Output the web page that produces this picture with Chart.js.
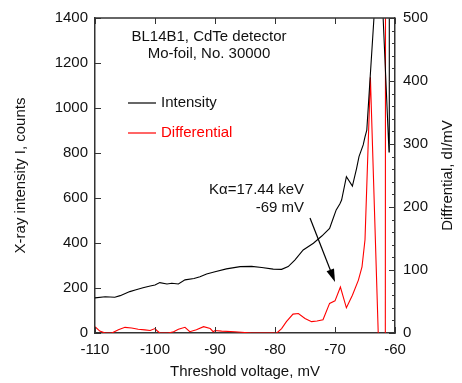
<!DOCTYPE html>
<html>
<head>
<meta charset="utf-8">
<script src="https://cdn.jsdelivr.net/npm/chart.js@4.4.1/dist/chart.umd.min.js"></script>
<style>
html,body{margin:0;padding:0;background:#fff;}
#wrap{width:462px;height:383px;position:relative;}
</style>
</head>
<body>
<div id="wrap"><canvas id="c" width="462" height="383"></canvas></div>
<script>
// ---- data ----
const intensityVoltage = [-110,-108.3,-106.7,-105.8,-104.2,-103.3,-102,-100.8,-100,-99.2,-98,-97.2,-96.1,-95,-93.5,-92.5,-91.4,-90,-88.1,-85.8,-83.9,-82.2,-80.3,-78.9,-77.8,-76.7,-75.3,-73.6,-72.2,-70.9,-70.3,-69.8,-69.2,-68.9,-68.1,-67.1,-66.4,-66,-65.3,-65,-64.7,-62.6,-61,-60.95];
const intensityCounts  = [156,161,159,166,184,191,201,209,213,224,218,221,218,236,242,250,262,272,285,295,296,291,284,283,295,324,369,399,431,465,510,547,573,591,695,653,732,784,836,872,902,1780,805,2500];
const diffVoltage = [-110,-109.2,-108.3,-107.2,-106.1,-105,-103.9,-102.8,-101.7,-100.8,-100,-99.7,-99.2,-98.4,-97.8,-96.9,-96.1,-95,-94.2,-93.1,-91.9,-90.8,-90.3,-90,-88.9,-86.7,-83.9,-80,-79.7,-78.9,-78.1,-77,-76.1,-75,-73.9,-73,-72,-70.9,-70,-69.1,-68.1,-67.1,-66.1,-65.5,-65,-64.1,-62.6,-61.7,-61.5];
const diffValues  = [10,3,0,0,5,9,8,6,5,4,7,4,0,0,0,2,6,9,2,5,10,7,2,4,3,2,0,0,0,7,18,30,31,23,18,19,21,47,51,73,40,60,84,105,148,406,-60,-1500,2000];
const xTicks = [-110,-100,-90,-80,-70,-60];
const yLeftTicks = [0,200,400,600,800,1000,1200,1400];
const yRightTicks = [0,100,200,300,400,500];
const seriesNames = ['Intensity','Differential'];
const titleLines = ['BL14B1, CdTe detector','Mo-foil, No. 30000'];
const arrowLines = ['K\u03B1=17.44 keV','-69 mV'];
const rightTitle = 'Diffrential, dI/mV';

const toPts = (xs, ys) => xs.map((x, i) => ({x: x, y: ys[i]}));
const FONT = '"Liberation Sans", Arial, Helvetica, sans-serif';
const INK = '#111';

const decor = {
  id: 'decor',
  afterDatasetsDraw(chart) {
    const {ctx, chartArea: a, scales} = chart;
    const sx = scales.x, sy = scales.y, sy2 = scales.y2;
    ctx.save();
    ctx.strokeStyle = '#333';
    ctx.lineWidth = 1;
    // inward ticks
    ctx.beginPath();
    xTicks.forEach(v => {
      const p = Math.round(sx.getPixelForValue(v)) + 0.5;
      ctx.moveTo(p, a.bottom); ctx.lineTo(p, a.bottom - 6);
      ctx.moveTo(p, a.top); ctx.lineTo(p, a.top + 6);
    });
    yLeftTicks.forEach(v => {
      const p = Math.round(sy.getPixelForValue(v)) + 0.5;
      ctx.moveTo(a.left, p); ctx.lineTo(a.left + 6, p);
    });
    for (let v = 0; v <= 500; v += 20) {
      const p = Math.round(sy2.getPixelForValue(v)) + 0.5;
      const len = (v % 100 === 0) ? 6 : 3;
      ctx.moveTo(a.right, p); ctx.lineTo(a.right - len, p);
    }
    ctx.stroke();

    // title text
    ctx.fillStyle = INK;
    ctx.font = '15px ' + FONT;
    ctx.textAlign = 'center';
    ctx.textBaseline = 'middle';
    ctx.fillText(titleLines[0], 209, 37);
    ctx.fillText(titleLines[1], 209, 54);

    // legend
    const legend = [{c: '#000', t: seriesNames[0], y: 103}, {c: '#ff0000', t: seriesNames[1], y: 133}];
    legend.forEach(l => {
      ctx.strokeStyle = l.c; ctx.lineWidth = 1.2;
      ctx.beginPath(); ctx.moveTo(128, l.y); ctx.lineTo(156, l.y); ctx.stroke();
      ctx.fillStyle = l.c === '#000' ? INK : '#ff0000';
      ctx.textAlign = 'left';
      ctx.fillText(l.t, 161, l.y);
    });

    // annotation
    ctx.fillStyle = INK;
    ctx.textAlign = 'right';
    ctx.fillText(arrowLines[0], 304, 190);
    ctx.fillText(arrowLines[1], 304, 208);

    // arrow
    const x0 = 310, y0 = 218, x1 = 335, y1 = 282;
    const ang = Math.atan2(y1 - y0, x1 - x0);
    ctx.strokeStyle = '#000'; ctx.lineWidth = 1.2;
    ctx.beginPath(); ctx.moveTo(x0, y0);
    ctx.lineTo(x1 - 10 * Math.cos(ang), y1 - 10 * Math.sin(ang)); ctx.stroke();
    ctx.fillStyle = '#000';
    ctx.beginPath();
    ctx.moveTo(x1, y1);
    ctx.lineTo(x1 - 13 * Math.cos(ang) + 4 * Math.sin(ang), y1 - 13 * Math.sin(ang) - 4 * Math.cos(ang));
    ctx.lineTo(x1 - 13 * Math.cos(ang) - 4 * Math.sin(ang), y1 - 13 * Math.sin(ang) + 4 * Math.cos(ang));
    ctx.closePath(); ctx.fill();

    // right axis title, reading bottom to top
    ctx.save();
    ctx.translate(448, (a.top + a.bottom) / 2);
    ctx.rotate(-Math.PI / 2);
    ctx.textAlign = 'center';
    ctx.fillStyle = INK;
    ctx.fillText(rightTitle, 0, 0);
    ctx.restore();
    ctx.restore();
  }
};

new Chart(document.getElementById('c'), {
  type: 'scatter',
  data: {
    datasets: [
      {label: seriesNames[0], data: toPts(intensityVoltage, intensityCounts), yAxisID: 'y', showLine: true,
       borderColor: '#000', borderWidth: 1.1, pointRadius: 0, tension: 0},
      {label: seriesNames[1], data: toPts(diffVoltage, diffValues), yAxisID: 'y2', showLine: true,
       borderColor: '#ff0000', borderWidth: 1.1, pointRadius: 0, tension: 0}
    ]
  },
  options: {
    responsive: false,
    animation: false,
    devicePixelRatio: 1,
    layout: {padding: {top: 18, left: 0, right: 0, bottom: 0}},
    plugins: {legend: {display: false}, tooltip: {enabled: false}},
    scales: {
      x: {
        type: 'linear', position: 'bottom', min: -110, max: -60,
        afterBuildTicks: s => { s.ticks = xTicks.map(v => ({value: v})); },
        afterFit: s => { s.height = 50; },
        grid: {display: true, drawOnChartArea: false, drawTicks: false},
        border: {display: true, color: '#333', width: 1.5},
        ticks: {color: INK, font: {family: FONT, size: 15}, padding: 8, maxRotation: 0, callback: v => String(v)},
        title: {display: true, text: 'Threshold voltage, mV', color: INK, font: {family: FONT, size: 15}, padding: {top: 0, bottom: 2}}
      },
      y: {
        type: 'linear', position: 'left', min: 0, max: 1400,
        afterBuildTicks: s => { s.ticks = yLeftTicks.map(v => ({value: v})); },
        afterFit: s => { s.width = 95; },
        grid: {display: true, drawOnChartArea: false, drawTicks: false},
        border: {display: true, color: '#333', width: 1.5},
        ticks: {color: INK, font: {family: FONT, size: 15}, padding: 7, callback: v => String(v)},
        title: {display: true, text: 'X-ray intensity I, counts', color: INK, font: {family: FONT, size: 15}, padding: {top: 12, bottom: 0}}
      },
      y2: {
        type: 'linear', position: 'right', min: 0, max: 500,
        afterBuildTicks: s => { s.ticks = yRightTicks.map(v => ({value: v})); },
        afterFit: s => { s.width = 67; },
        grid: {display: true, drawOnChartArea: false, drawTicks: false},
        border: {display: true, color: '#333', width: 1.5},
        ticks: {color: INK, font: {family: FONT, size: 15}, padding: 8, callback: v => String(v)},
        title: {display: false}
      }
    }
  },
  plugins: [decor, {
    id: 'topBorder',
    afterDraw(chart) {
      const {ctx, chartArea: a} = chart;
      ctx.save(); ctx.strokeStyle = '#333'; ctx.lineWidth = 1.5;
      ctx.beginPath(); ctx.moveTo(a.left, a.top); ctx.lineTo(a.right, a.top); ctx.stroke();
      ctx.restore();
    }
  }]
});
</script>
</body>
</html>
